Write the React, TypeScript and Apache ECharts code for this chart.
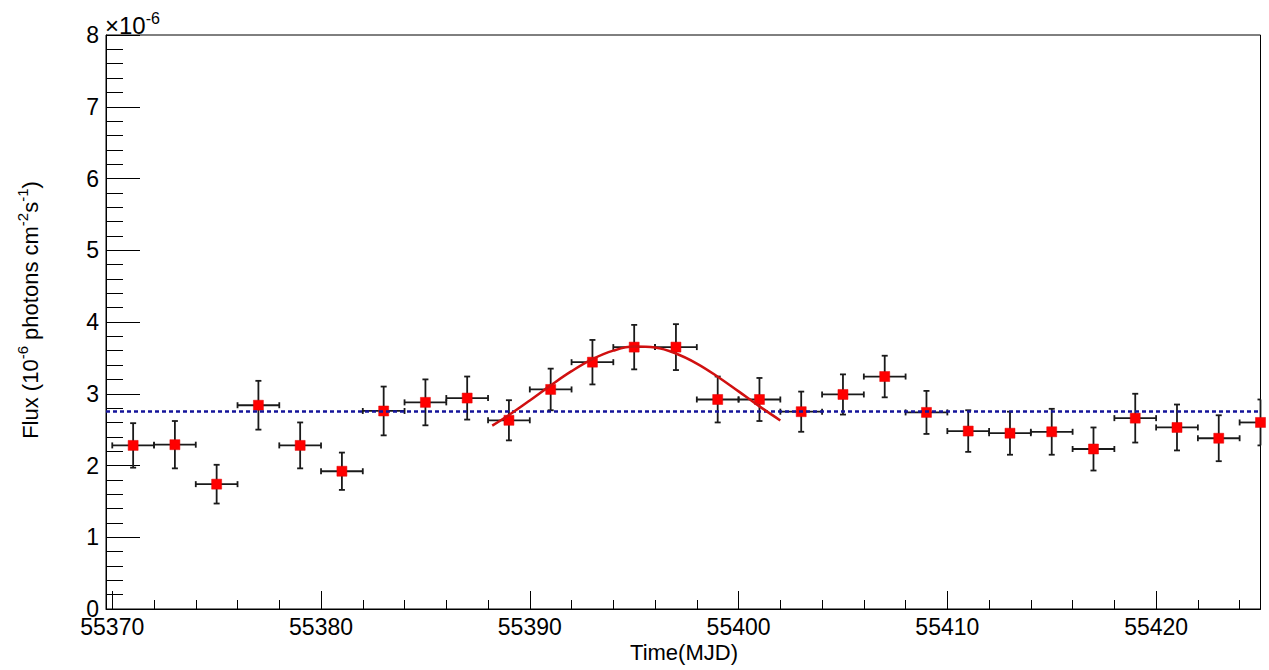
import React, { useEffect, useRef } from "react";
import * as echarts from "echarts";

// ---- data ----
const times = [
  55371, 55373, 55375, 55377, 55379, 55381, 55383, 55385, 55387, 55389,
  55391, 55393, 55395, 55397, 55399, 55401, 55403, 55405, 55407, 55409,
  55411, 55413, 55415, 55417, 55419, 55421, 55423, 55425,
];
const flux = [
  2.28, 2.29, 1.74, 2.84, 2.28, 1.92, 2.76, 2.88, 2.94, 2.63,
  3.06, 3.44, 3.65, 3.65, 2.92, 2.92, 2.75, 2.99, 3.24, 2.74,
  2.48, 2.45, 2.47, 2.23, 2.66, 2.53, 2.38, 2.6,
];
const fluxErr = [
  0.31, 0.33, 0.27, 0.34, 0.32, 0.26, 0.34, 0.32, 0.3, 0.28,
  0.29, 0.31, 0.31, 0.32, 0.32, 0.3, 0.28, 0.28, 0.29, 0.3,
  0.29, 0.3, 0.32, 0.3, 0.34, 0.32, 0.32, 0.32,
];
const timeHalfWidth = 1;

// fitted flare curve (red)
const fitTimes = [
  55388.2, 55389, 55390, 55391, 55392, 55393, 55394, 55395, 55396, 55397,
  55398, 55399, 55400, 55401, 55402,
];
const fitFlux = [
  2.555, 2.704, 2.907, 3.117, 3.315, 3.483, 3.601, 3.657, 3.643, 3.561,
  3.421, 3.238, 3.033, 2.824, 2.628,
];

// constant (average) flux level, blue dotted line
const constFlux = 2.76;

// axes
const xMin = 55369.7;
const xMax = 55425;
const xMajorTicks = [55370, 55380, 55390, 55400, 55410, 55420];
const xMinorTicks = [
  55372, 55374, 55376, 55378, 55382, 55384, 55386, 55388, 55392, 55394,
  55396, 55398, 55402, 55404, 55406, 55408, 55412, 55414, 55416, 55418,
  55422, 55424,
];
const yMin = 0;
const yMax = 8;

const FONT = "'Liberation Sans', Arial, Helvetica, sans-serif";

export default function App() {
  const ref = useRef<HTMLDivElement>(null);

  useEffect(() => {
    if (!ref.current) return;
    const chart = echarts.init(ref.current, undefined, { renderer: "svg" });

    const errData = times.map((t, i) => [
      t,
      flux[i],
      t - timeHalfWidth,
      t + timeHalfWidth,
      flux[i] - fluxErr[i],
      flux[i] + fluxErr[i],
    ]);

    const option: any = {
      animation: false,
      backgroundColor: "#ffffff",
      textStyle: { fontFamily: FONT },
      grid: {
        left: 106,
        right: 8.5,
        top: 35,
        bottom: 61,
        show: true,
        borderColor: "#000",
        borderWidth: 1,
        backgroundColor: "transparent",
        containLabel: false,
      },
      xAxis: [
        {
          type: "value",
          min: xMin,
          max: xMax,
          position: "bottom",
          axisLine: { show: true, onZero: false, lineStyle: { color: "#000", width: 1 } },
          axisTick: {
            show: true,
            inside: true,
            length: 18,
            customValues: xMajorTicks,
            lineStyle: { color: "#000", width: 1 },
          },
          axisLabel: {
            show: true,
            customValues: xMajorTicks,
            margin: 6,
            color: "#000",
            fontSize: 23,
            fontFamily: FONT,
            lineHeight: 23,
            formatter: (v: number) => String(Math.round(v)),
          },
          splitLine: { show: false },
        },
        {
          type: "value",
          min: xMin,
          max: xMax,
          position: "bottom",
          axisLine: { show: false, onZero: false },
          axisTick: {
            show: true,
            inside: true,
            length: 9,
            customValues: xMinorTicks,
            lineStyle: { color: "#000", width: 1 },
          },
          axisLabel: { show: false },
          splitLine: { show: false },
        },
      ],
      yAxis: {
        type: "value",
        min: yMin,
        max: yMax,
        interval: 1,
        axisLine: { show: true, onZero: false, lineStyle: { color: "#000", width: 1 } },
        axisTick: { show: true, inside: true, length: 34, lineStyle: { color: "#000", width: 1 } },
        minorTick: { show: true, splitNumber: 5, length: 17, lineStyle: { color: "#000", width: 1 } },
        axisLabel: {
          margin: 7,
          color: "#000",
          fontSize: 23,
          fontFamily: FONT,
        },
        splitLine: { show: false },
        minorSplitLine: { show: false },
      },
      series: [
        {
          type: "custom",
          name: "errors",
          xAxisIndex: 0,
          yAxisIndex: 0,
          data: errData,
          encode: { x: 0, y: 1 },
          z: 2,
          renderItem: (params: any, api: any) => {
            const x = api.value(0);
            const y = api.value(1);
            const xl = api.value(2);
            const xh = api.value(3);
            const yl = api.value(4);
            const yh = api.value(5);
            const c = api.coord([x, y]);
            const pl = api.coord([xl, y]);
            const ph = api.coord([xh, y]);
            const pb = api.coord([x, yl]);
            const pt = api.coord([x, yh]);
            const cs = params.coordSys;
            const left = cs.x;
            const right = cs.x + cs.width;
            const cap = 3;
            const st = { stroke: "#1a1a1a", lineWidth: 1.8 };
            const children: any[] = [];
            const hx1 = Math.max(pl[0], left);
            const hx2 = Math.min(ph[0], right);
            children.push({ type: "line", shape: { x1: hx1, y1: c[1], x2: hx2, y2: c[1] }, style: st });
            if (pl[0] >= left) children.push({ type: "line", shape: { x1: pl[0], y1: c[1] - cap, x2: pl[0], y2: c[1] + cap }, style: st });
            if (ph[0] <= right) children.push({ type: "line", shape: { x1: ph[0], y1: c[1] - cap, x2: ph[0], y2: c[1] + cap }, style: st });
            children.push({ type: "line", shape: { x1: c[0], y1: pb[1], x2: c[0], y2: pt[1] }, style: st });
            const vl = Math.max(c[0] - cap, left);
            const vr = Math.min(c[0] + cap, right);
            children.push({ type: "line", shape: { x1: vl, y1: pb[1], x2: vr, y2: pb[1] }, style: st });
            children.push({ type: "line", shape: { x1: vl, y1: pt[1], x2: vr, y2: pt[1] }, style: st });
            return { type: "group", children };
          },
        },
        {
          type: "line",
          name: "const",
          xAxisIndex: 0,
          data: [],
          markLine: {
            silent: true,
            symbol: ["none", "none"],
            label: { show: false },
            lineStyle: { color: "#14149a", width: 2.5, type: [4, 3] },
            data: [{ yAxis: constFlux }],
          },
          z: 3,
        },
        {
          type: "scatter",
          name: "flux",
          xAxisIndex: 0,
          data: times.map((t, i) => [t, flux[i]]),
          symbol: "rect",
          symbolSize: 10,
          itemStyle: { color: "#ff0000", borderColor: "#e00000", borderWidth: 0.5, opacity: 1 },
          clip: false,
          z: 4,
        },
        {
          type: "line",
          name: "fit",
          xAxisIndex: 0,
          data: fitTimes.map((t, i) => [t, fitFlux[i]]),
          smooth: 0.4,
          showSymbol: false,
          symbol: "none",
          lineStyle: { color: "#d01010", width: 2.5 },
          z: 5,
        },
      ],
      graphic: [
        {
          type: "text",
          x: 105,
          y: 37,
          style: {
            text: "{a|×10}{s|-6}",
            align: "left",
            verticalAlign: "bottom",
            rich: {
              a: { fontSize: 24, fontFamily: FONT, fill: "#000", lineHeight: 27, verticalAlign: "bottom" },
              s: { fontSize: 16, fontFamily: FONT, fill: "#000", lineHeight: 16, verticalAlign: "top" },
            },
          },
        },
        {
          type: "text",
          x: 28,
          y: 310,
          rotation: Math.PI / 2,
          style: {
            text: "{a|Flux (10}{s|-6}{a| photons cm}{s|-2}{a|s}{s|-1}{a|)}",
            align: "center",
            verticalAlign: "middle",
            rich: {
              a: { fontSize: 22, fontFamily: FONT, fill: "#000", lineHeight: 27, verticalAlign: "bottom" },
              s: { fontSize: 15, fontFamily: FONT, fill: "#000", lineHeight: 15, verticalAlign: "top" },
            },
          },
        },
        {
          type: "text",
          x: 684,
          y: 652,
          style: {
            text: "Time(MJD)",
            align: "center",
            verticalAlign: "middle",
            fontSize: 22,
            fontFamily: FONT,
            fill: "#000",
          },
        },
      ],
    };

    chart.setOption(option);
    return () => {
      chart.dispose();
    };
  }, []);

  return (
    <div
      ref={ref}
      style={{ position: "absolute", left: 0, top: 0, width: 1269, height: 670, background: "#fff" }}
    />
  );
}
